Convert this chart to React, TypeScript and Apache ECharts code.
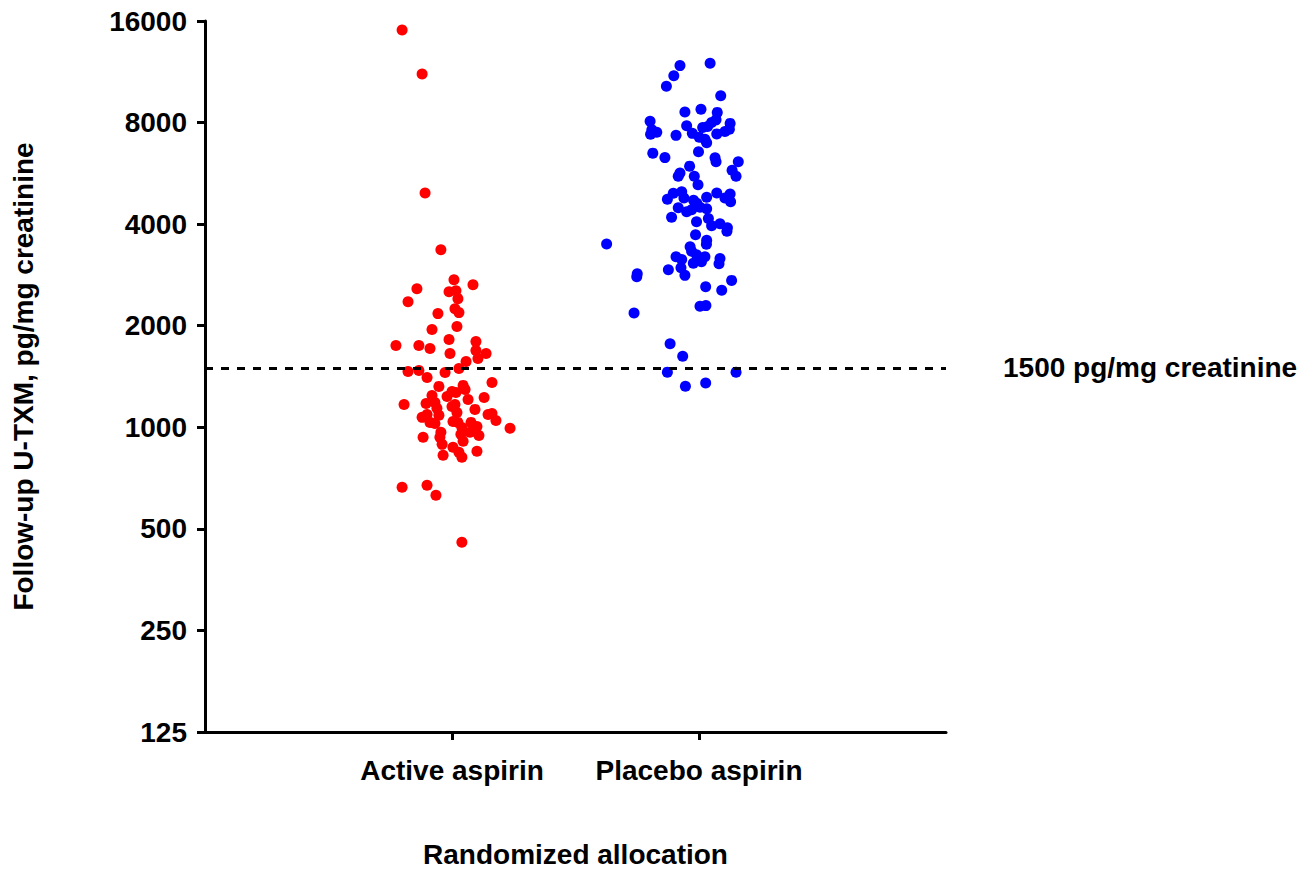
import React, { useEffect, useRef } from "react";
import * as echarts from "echarts";

const CATEGORIES = ["Active aspirin", "Placebo aspirin"];
const Y_TICKS = [125, 250, 500, 1000, 2000, 4000, 8000, 16000];
const THRESHOLD = 1500;
const THRESHOLD_LABEL = "1500 pg/mg creatinine";
const X_TITLE = "Randomized allocation";
const Y_TITLE = "Follow-up U-TXM, pg/mg creatinine";

// Active aspirin: U-TXM values (pg/mg creatinine) and horizontal jitter
const ACTIVE_VALUES = [
  15050, 11150, 4950, 3360, 2738, 2575, 2646, 2523, 2540, 2357,
  2406, 2247, 2187, 2172, 1988, 1948, 1820, 1796, 1747, 1747,
  1712, 1689, 1655, 1655, 1599, 1567, 1464, 1474, 1454, 1494,
  1405, 1358, 1322, 1331, 1295, 1277, 1269, 1243, 1234, 1226,
  1209, 1169, 1177, 1185, 1169, 1153, 1130, 1099, 1085, 1070,
  1092, 1107, 1092, 1048, 1034, 1027, 1041, 1034, 1034, 1006,
  999, 993, 953, 966, 946, 966, 934, 934, 909, 890,
  872, 843, 849, 826, 815, 664, 673, 629, 456, 1138,
];
const ACTIVE_JITTER = [
  -0.202, -0.121, -0.109, -0.045, 0.008, -0.142, 0.085, -0.012, 0.016, -0.178,
  0.024, 0.012, 0.028, -0.057, 0.02, -0.081, -0.012, 0.097, -0.227, -0.134,
  -0.089, 0.097, -0.008, 0.138, 0.105, 0.057, -0.178, -0.134, -0.028, 0.028,
  -0.101, 0.162, -0.053, 0.045, 0.053, 0, 0.016, -0.081, -0.02, 0.13,
  0.065, -0.194, -0.105, -0.069, 0.012, 0, 0.093, 0.162, -0.053, -0.121,
  -0.101, 0.02, 0.146, 0.178, -0.089, -0.069, 0.004, 0.024, 0.077, 0.101,
  0.04, 0.235, 0.036, 0.073, 0.109, -0.045, -0.117, -0.049, 0.045, -0.04,
  0.004, 0.028, 0.101, -0.036, 0.04, -0.202, -0.101, -0.065, 0.04, -0.061,
];

// Placebo aspirin
const PLACEBO_VALUES = [
  11800, 12000, 11020, 10250, 9600, 8605, 8766, 8576, 8149, 8000,
  8066, 7612, 7493, 7391, 7823, 7732, 7785, 7956, 7648, 7524,
  7331, 7432, 7232, 7144, 6966, 7406, 6494, 6298, 6551, 6290,
  6120, 6120, 5943, 5666, 5544, 5544, 5232, 5775, 5544, 4740,
  4938, 4988, 4779, 4473, 4353, 4192, 4708, 4612, 4412, 4488,
  4443, 4805, 4944, 4914, 4660, 4779, 4066, 4156, 3957, 4011,
  3903, 3811, 3721, 3584, 3488, 3429, 3325, 3247, 3203, 3096,
  3203, 3143, 3164, 3054, 2931, 2971, 3064, 3493, 2853, 2795,
  2820, 2725, 2611, 2549, 2283, 2294, 2182, 1768, 1624, 1457,
  1457, 1324, 1352,
];
const PLACEBO_JITTER = [
  -0.077, 0.045, -0.102, -0.132, 0.088, -0.057, 0.008, 0.074, 0.069, 0.051,
  -0.198, -0.191, -0.171, -0.196, -0.05, 0.015, 0.035, 0.126, 0.123, 0.105,
  -0.093, -0.027, 0.001, 0.024, 0.031, 0.072, -0.187, -0.138, -0.002, 0.065,
  0.069, 0.159, -0.038, -0.077, -0.084, -0.019, -0.004, 0.134, 0.15, -0.128,
  -0.104, -0.07, -0.061, -0.084, -0.05, -0.111, -0.022, -0.009, -0.03, 0.004,
  0.031, 0.031, 0.072, 0.126, 0.128, 0.105, -0.01, 0.038, 0.051, 0.085,
  0.115, 0.113, -0.014, 0.031, 0.03, -0.036, -0.03, -0.01, 0.024, 0.01,
  -0.093, -0.07, 0.085, 0.081, -0.124, -0.073, -0.023, -0.374, -0.25, -0.252,
  -0.057, 0.132, 0.027, 0.092, 0.004, 0.028, -0.263, -0.117, -0.066, -0.128,
  0.15, -0.055, 0.027,
];

const FONT = "'Liberation Sans', Arial, Helvetica, sans-serif";

export default function App() {
  const ref = useRef<HTMLDivElement>(null);

  useEffect(() => {
    if (!ref.current) return;
    const chart = echarts.init(ref.current, null, { renderer: "svg" });

    const activeData = ACTIVE_VALUES.map((v, i) => [1 + ACTIVE_JITTER[i], v]);
    const placeboData = PLACEBO_VALUES.map((v, i) => [2 + PLACEBO_JITTER[i], v]);

    const textStyle = { color: "#000", fontFamily: FONT, fontWeight: "bold" as const };

    chart.setOption({
      animation: false,
      backgroundColor: "#fff",
      grid: { left: 205, right: 368, top: 21, bottom: 137, containLabel: false },
      xAxis: {
        type: "value",
        min: 0,
        max: 3,
        name: X_TITLE,
        nameLocation: "middle",
        nameGap: 108,
        nameTextStyle: { ...textStyle, fontSize: 28 },
        splitLine: { show: false },
        axisLine: { show: true, lineStyle: { color: "#000", width: 3 } },
        axisTick: { show: true, customValues: [1, 2], length: 8, lineStyle: { color: "#000", width: 3 } },
        axisLabel: {
          customValues: [1, 2],
          margin: 24,
          ...textStyle,
          fontSize: 28,
          formatter: (v: number) => CATEGORIES[Math.round(v) - 1] ?? "",
        },
      },
      yAxis: {
        type: "log",
        logBase: 2,
        min: 125,
        max: 16000,
        name: Y_TITLE,
        nameLocation: "middle",
        nameRotate: 90,
        nameGap: 168,
        nameTextStyle: { ...textStyle, fontSize: 28 },
        splitLine: { show: false },
        minorTick: { show: false },
        axisLine: { show: true, lineStyle: { color: "#000", width: 3 } },
        axisTick: { show: true, customValues: Y_TICKS, length: 8, lineStyle: { color: "#000", width: 3 } },
        axisLabel: {
          customValues: Y_TICKS,
          margin: 18,
          ...textStyle,
          fontSize: 28,
          formatter: (v: number) => String(Math.round(v)),
        },
      },
      series: [
        {
          name: CATEGORIES[0],
          type: "scatter",
          symbol: "circle",
          symbolSize: 11,
          itemStyle: { color: "#ff0000", opacity: 1 },
          data: activeData,
          z: 2,
        },
        {
          name: CATEGORIES[1],
          type: "scatter",
          symbol: "circle",
          symbolSize: 11,
          itemStyle: { color: "#0000ff", opacity: 1 },
          data: placeboData,
          z: 2,
          markLine: {
            silent: true,
            symbol: "none",
            z: 10,
            lineStyle: { color: "#000", width: 3, type: [8, 8] },
            label: {
              show: true,
              position: "end",
              distance: 57,
              formatter: THRESHOLD_LABEL,
              ...textStyle,
              fontSize: 28,
            },
            data: [{ yAxis: THRESHOLD }],
          },
        },
      ],
    });

    return () => chart.dispose();
  }, []);

  return (
    <div
      ref={ref}
      style={{ position: "absolute", left: 0, top: 0, width: 1314, height: 873, background: "#fff" }}
    />
  );
}
